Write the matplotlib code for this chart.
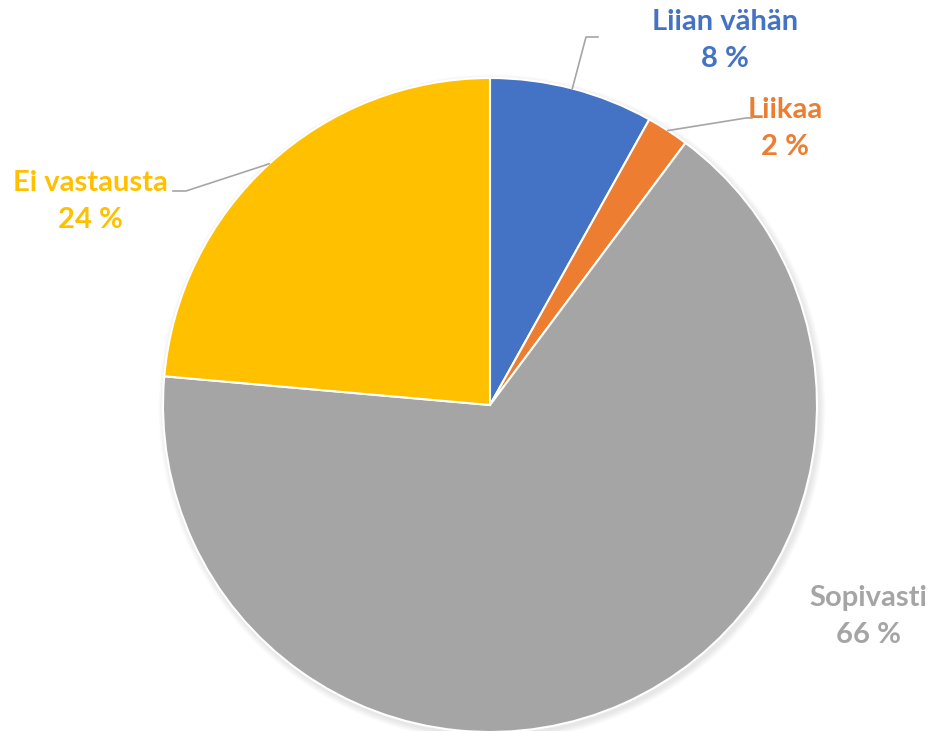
import numpy as np
import matplotlib.pyplot as plt

categories = ["Liian vähän", "Liikaa", "Sopivasti", "Ei vastausta"]
values = [8.1, 2.1, 66.2, 23.6]
colors = ["#4472C4", "#ED7D31", "#A5A5A5", "#FFC000"]

W, H = 933, 731
cx, cy, r = 490, H - 405, 327

fig = plt.figure(figsize=(W / 100, H / 100), dpi=100)
ax = fig.add_axes([0, 0, 1, 1])

# soft shadow round the pie
for k in range(8):
    ax.add_patch(plt.Circle((cx + 2, cy - 3), r + 1 + k * 0.8, color="black",
                            alpha=0.012, lw=0, zorder=0))

wedges, _ = ax.pie(values, colors=colors, startangle=90, counterclock=False,
                   center=(cx, cy), radius=r, frame=True,
                   wedgeprops=dict(edgecolor="white", linewidth=1.5))
ax.set_xlim(0, W)
ax.set_ylim(0, H)
ax.axis("off")

# label positions (text centre, first line) and leader elbows in pixels
label_pos = [(725, 22), (785, 110), (868, 598), (90, 183)]
elbows = [[(586, 37), (598, 37)], [(746, 118), (752, 118)], None, [(186, 191), (173, 191)]]

font = dict(family=["Lato", "DejaVu Sans"], fontweight="bold", fontsize=21)

for w, val, col, (lx, ly), elb, name in zip(wedges, values, colors, label_pos, elbows, categories):
    ax.text(lx, H - ly, name, color=col, ha="center", va="center", **font)
    ax.text(lx, H - ly - 37, f"{round(val)} %", color=col, ha="center", va="center", **font)
    if elb is None:
        continue
    mid = np.deg2rad((w.theta1 + w.theta2) / 2)
    ax_pt = (cx + r * np.cos(mid), cy + r * np.sin(mid))
    xs = [ax_pt[0]] + [p[0] for p in elb]
    ys = [ax_pt[1]] + [H - p[1] for p in elb]
    ax.plot(xs, ys, color="#A6A6A6", lw=1.2, zorder=5)

fig.savefig("out.png", dpi=100)
